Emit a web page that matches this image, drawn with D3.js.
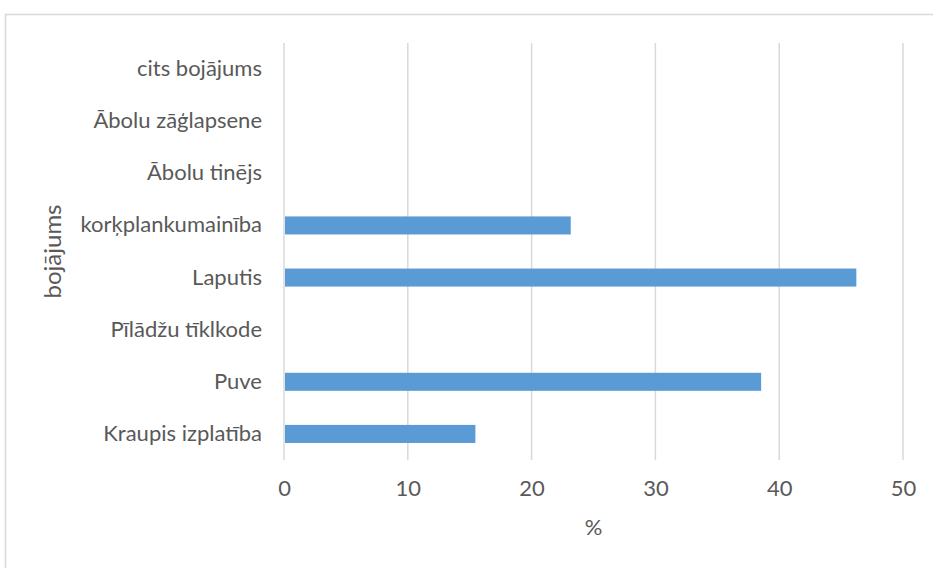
<!DOCTYPE html>
<html>
<head>
<meta charset="utf-8">
<script src="https://cdn.jsdelivr.net/npm/d3@7"></script>
<style>
  body { margin: 0; background: #fff; }
  svg text { font-family: Lato, "Open Sans", sans-serif; fill: #595959; }
</style>
</head>
<body>
<svg id="chart" width="933" height="568"></svg>
<script>
// categories listed bottom to top, the way the source spreadsheet has them
var categories = ["Kraupis izplatība", "Puve", "Pīlādžu tīklkode", "Laputis",
  "korķplankumainība", "Ābolu tinējs", "Ābolu zāģlapsene", "cits bojājums"];
var values = [15.38, 38.46, 0, 46.15, 23.08, 0, 0, 0];
var xTicks = [0, 10, 20, 30, 40, 50];

var svg = d3.select('#chart');
var margin = { left: 284, right: 30, top: 43, bottom: 108 };
var width = 933 - margin.left - margin.right;
var height = 568 - margin.top - margin.bottom;

// outer frame
svg.append('rect')
  .attr('x', 5.5).attr('y', 14.5)
  .attr('width', 940).attr('height', 570)
  .style('fill', 'none')
  .style('stroke', '#d9d9d9')
  .style('stroke-width', 1.5);

var g = svg.append('g').attr('transform', 'translate(' + margin.left + ',' + margin.top + ')');

var x = d3.scaleLinear().domain([0, 50]).range([0, 619]);
var y = d3.scaleBand()
  .domain(categories.slice().reverse())
  .range([0, 417])
  .paddingInner(0.654)
  .paddingOuter(0.327);

// gridlines
g.selectAll('line.grid')
  .data(xTicks)
  .enter()
  .append('line')
  .classed('grid', true)
  .attr('x1', function (d) { return x(d); })
  .attr('x2', function (d) { return x(d); })
  .attr('y1', 0)
  .attr('y2', height)
  .style('stroke', '#d9d9d9')
  .style('stroke-width', 1.5);

// bars
g.selectAll('rect.bar')
  .data(categories.map(function (c, i) { return { c: c, v: values[i] }; }).filter(function (d) { return d.v > 0; }))
  .enter()
  .append('rect')
  .classed('bar', true)
  .attr('x', x(0) + 1)
  .attr('y', function (d) { return y(d.c); })
  .attr('width', function (d) { return x(d.v) - x(0); })
  .attr('height', y.bandwidth())
  .style('fill', '#5b9bd5');

// category labels
var yAxis = d3.axisLeft(y).tickSize(0).tickPadding(22);
g.append('g').call(yAxis)
  .call(function (s) { s.select('.domain').remove(); })
  .selectAll('text')
  .style('font-size', '22px')
  .style('fill', '#595959');

// x tick labels
var xAxis = d3.axisBottom(x).tickValues(xTicks).tickSize(0).tickPadding(20);
g.append('g').attr('transform', 'translate(0,' + height + ')').call(xAxis)
  .call(function (s) { s.select('.domain').remove(); })
  .selectAll('text')
  .style('font-size', '22px')
  .style('fill', '#595959');

// axis titles
svg.append('text')
  .attr('x', margin.left + x(25))
  .attr('y', 535)
  .attr('text-anchor', 'middle')
  .style('font-size', '22px')
  .text('%');

svg.append('text')
  .attr('transform', 'translate(61,' + (margin.top + height / 2) + ') rotate(-90)')
  .attr('text-anchor', 'middle')
  .style('font-size', '24px')
  .text('bojājums');
</script>
</body>
</html>
